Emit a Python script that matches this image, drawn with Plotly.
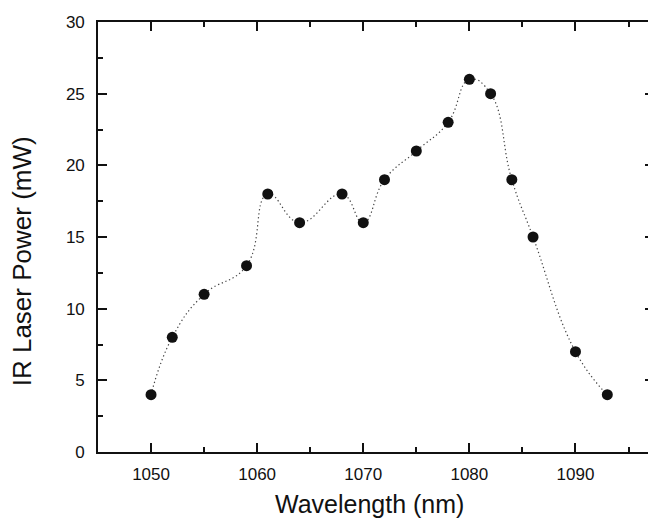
import plotly.graph_objects as go

wavelength = [1050, 1052, 1055, 1059, 1061, 1064, 1068, 1070, 1072, 1075, 1078, 1080, 1082, 1084, 1086, 1090, 1093]
power = [4, 8, 11, 13, 18, 16, 18, 16, 19, 21, 23, 26, 25, 19, 15, 7, 4]

x_ticks = [1050, 1060, 1070, 1080, 1090]
y_ticks = [0, 5, 10, 15, 20, 25, 30]

FONT = "Liberation Sans, Arial, sans-serif"
INK = "#111111"

fig = go.Figure()
fig.add_trace(go.Scatter(
    x=wavelength, y=power, mode="lines",
    line=dict(shape="spline", smoothing=1.3, dash="1.3px,2.7px", color="#444444", width=1.2),
    hoverinfo="skip", showlegend=False))
fig.add_trace(go.Scatter(
    x=wavelength, y=power, mode="markers",
    marker=dict(size=11, color=INK), showlegend=False))

axis_common = dict(
    showgrid=False, zeroline=False, showline=True, linecolor=INK, linewidth=1.6,
    mirror="allticks", ticks="inside", ticklen=9, tickwidth=1.5, tickcolor=INK,
    tickfont=dict(family=FONT, size=17, color=INK),
)

fig.update_xaxes(
    range=[1045, 1097.4], tickvals=x_ticks, ticktext=[str(t) for t in x_ticks],
    minor=dict(dtick=5, tick0=1045, ticks="inside", ticklen=5, tickwidth=1.5, tickcolor=INK),
    ticklabelstandoff=6,
    **axis_common)
fig.update_yaxes(
    range=[0, 30], tickvals=y_ticks, ticktext=[str(t) for t in y_ticks],
    minor=dict(dtick=2.5, tick0=0, ticks="inside", ticklen=5, tickwidth=1.5, tickcolor=INK),
    ticklabelstandoff=8,
    **axis_common)

# Axis titles as paper annotations; plot area spans page x 98..656, y 22..452
fig.add_annotation(text="Wavelength (nm)", xref="paper", yref="paper",
                   x=(370 - 98) / 558, y=(452 - 504) / 430, xanchor="center", yanchor="middle",
                   showarrow=False, font=dict(family=FONT, size=25, color=INK))
fig.add_annotation(text="IR Laser Power (mW)", xref="paper", yref="paper",
                   x=(22 - 98) / 558, y=(452 - 261) / 430, xanchor="center", yanchor="middle",
                   textangle=-90, showarrow=False, font=dict(family=FONT, size=26, color=INK))

fig.update_layout(
    width=648, height=512,
    margin=dict(l=90, r=0, t=14, b=68),
    paper_bgcolor="white", plot_bgcolor="white",
)

fig.write_html("out.html")
